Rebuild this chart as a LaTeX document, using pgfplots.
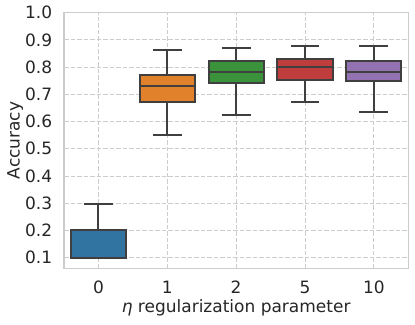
\documentclass[border=0pt]{standalone}
\usepackage{fontspec}
\setmainfont{DejaVu Sans}
\usepackage{pgfplots}
\pgfplotsset{compat=1.18}
\usepgfplotslibrary{statistics}

\definecolor{sbblue}{HTML}{3274A1}
\definecolor{sborange}{HTML}{E1812C}
\definecolor{sbgreen}{HTML}{3A923A}
\definecolor{sbred}{HTML}{C03D3E}
\definecolor{sbpurple}{HTML}{9372B2}
\definecolor{edge}{HTML}{3F3F3F}
\definecolor{spine}{HTML}{CCCCCC}

\pgfplotsset{
  sbbox/.style={draw=edge, line width=2bp, solid,
    boxplot/draw direction=y,
    boxplot/box extend=0.8, boxplot/whisker extend=0.42},
}

\begin{document}
\begin{tikzpicture}
\useasboundingbox (0,0) rectangle (415bp,325bp);
\begin{axis}[
    at={(64bp,56.7bp)}, anchor=south west,
    scale only axis,
    width=344.3bp, height=255.6bp,
    xmin=-0.5, xmax=4.5,
    ymin=0.061, ymax=1.0,
    xtick={0,1,2,3,4},
    xticklabels={0,1,2,5,10},
    ytick={0.1,0.2,0.3,0.4,0.5,0.6,0.7,0.8,0.9,1.0},
    yticklabel style={/pgf/number format/fixed, /pgf/number format/fixed zerofill,
      /pgf/number format/precision=1, anchor=east, xshift=-11.7bp},
    /pgf/number format/assume math mode=true,
    tick style={draw=none},
    ticklabel style={text=black!85, inner sep=0pt, font=\fontsize{17bp}{20bp}\selectfont},
    xticklabel style={anchor=base, yshift=-25bp},
    label style={text=black!85, font=\fontsize{17bp}{20bp}\selectfont},
    xlabel={{\itshape η} regularization parameter},
    ylabel={Accuracy},
    xlabel style={at={(axis description cs:0.5,-0.155)}, anchor=center},
    ylabel style={at={(axis description cs:-0.142,0.5)}, anchor=center},
    axis line style={draw=spine, line width=1.3bp},
    grid=major,
    major grid style={draw=spine, line width=0.9bp, dash pattern=on 4.5bp off 2bp},
]
\addplot[sbbox, fill=sbblue, boxplot prepared={
    draw position=0, lower whisker=0.1, lower quartile=0.1,
    median=0.1, upper quartile=0.201, upper whisker=0.298}]
  coordinates {};
\addplot[sbbox, fill=sborange, boxplot prepared={
    draw position=1, lower whisker=0.549, lower quartile=0.673,
    median=0.730, upper quartile=0.770, upper whisker=0.864}]
  coordinates {};
\addplot[sbbox, fill=sbgreen, boxplot prepared={
    draw position=2, lower whisker=0.623, lower quartile=0.741,
    median=0.781, upper quartile=0.824, upper whisker=0.869}]
  coordinates {};
\addplot[sbbox, fill=sbred, boxplot prepared={
    draw position=3, lower whisker=0.672, lower quartile=0.753,
    median=0.800, upper quartile=0.830, upper whisker=0.877}]
  coordinates {};
\addplot[sbbox, fill=sbpurple, boxplot prepared={
    draw position=4, lower whisker=0.637, lower quartile=0.748,
    median=0.781, upper quartile=0.823, upper whisker=0.878}]
  coordinates {};
\end{axis}
\end{tikzpicture}
\end{document}
